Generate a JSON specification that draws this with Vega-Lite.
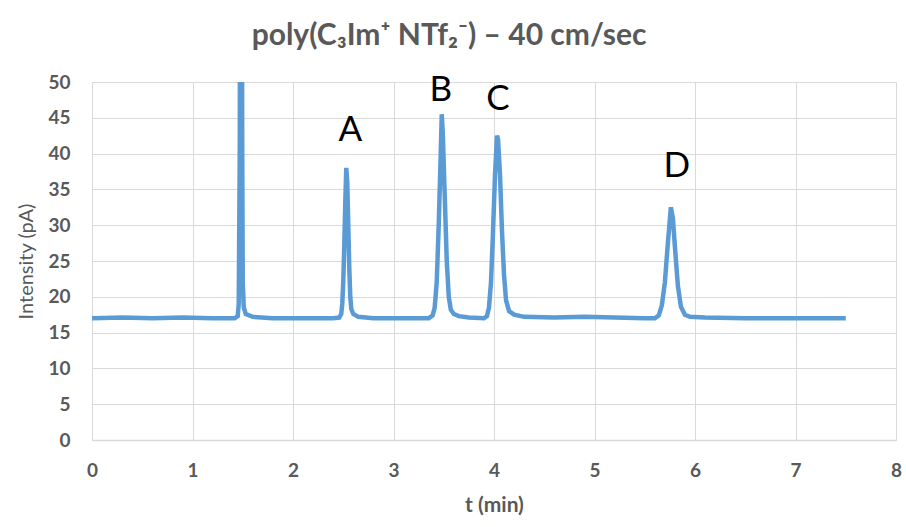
{
  "$schema": "https://vega.github.io/schema/vega-lite/v6.json",
  "width": 804,
  "height": 358,
  "autosize": {"type": "none"},
  "padding": {"left": 92, "top": 82, "right": 10, "bottom": 87},
  "background": "white",
  "config": {"view": {"stroke": null}},
  "title": {
    "text": "poly(C₃Im⁺ NTf₂⁻) – 40 cm/sec",
    "font": "Lato",
    "fontSize": 30,
    "fontWeight": "bold",
    "color": "#595959",
    "anchor": "middle",
    "dx": -45,
    "offset": 22
  },
  "datasets": {
    "trace": [
      {"t": 0, "I": 17}, {"t": 0.3, "I": 17.1}, {"t": 0.6, "I": 17}, {"t": 0.9, "I": 17.1},
      {"t": 1.2, "I": 17}, {"t": 1.42, "I": 17}, {"t": 1.45, "I": 17.3}, {"t": 1.46, "I": 19},
      {"t": 1.47, "I": 40}, {"t": 1.475, "I": 75}, {"t": 1.49, "I": 75}, {"t": 1.495, "I": 40},
      {"t": 1.5, "I": 22}, {"t": 1.51, "I": 18.5}, {"t": 1.53, "I": 17.6}, {"t": 1.6, "I": 17.2},
      {"t": 1.8, "I": 17}, {"t": 2.1, "I": 17}, {"t": 2.4, "I": 17}, {"t": 2.46, "I": 17.1},
      {"t": 2.48, "I": 17.6}, {"t": 2.49, "I": 19}, {"t": 2.5, "I": 22}, {"t": 2.51, "I": 27},
      {"t": 2.52, "I": 33}, {"t": 2.53, "I": 38}, {"t": 2.54, "I": 36}, {"t": 2.55, "I": 30},
      {"t": 2.56, "I": 24}, {"t": 2.57, "I": 20}, {"t": 2.58, "I": 18.3}, {"t": 2.6, "I": 17.6},
      {"t": 2.65, "I": 17.2}, {"t": 2.8, "I": 17}, {"t": 3.1, "I": 17}, {"t": 3.35, "I": 17},
      {"t": 3.39, "I": 17.4}, {"t": 3.41, "I": 18.5}, {"t": 3.43, "I": 22}, {"t": 3.45, "I": 30},
      {"t": 3.47, "I": 40}, {"t": 3.48, "I": 45.5}, {"t": 3.49, "I": 43}, {"t": 3.51, "I": 34},
      {"t": 3.53, "I": 25}, {"t": 3.55, "I": 20}, {"t": 3.57, "I": 18.2}, {"t": 3.6, "I": 17.6},
      {"t": 3.65, "I": 17.3}, {"t": 3.75, "I": 17.1}, {"t": 3.9, "I": 17}, {"t": 3.93, "I": 17.3},
      {"t": 3.95, "I": 18.5}, {"t": 3.97, "I": 22}, {"t": 3.99, "I": 29}, {"t": 4.01, "I": 37},
      {"t": 4.03, "I": 42.5}, {"t": 4.04, "I": 42}, {"t": 4.06, "I": 37}, {"t": 4.08, "I": 29},
      {"t": 4.1, "I": 23}, {"t": 4.12, "I": 19.5}, {"t": 4.15, "I": 18}, {"t": 4.2, "I": 17.5},
      {"t": 4.3, "I": 17.2}, {"t": 4.6, "I": 17.1}, {"t": 4.9, "I": 17.2}, {"t": 5.2, "I": 17.1},
      {"t": 5.5, "I": 17}, {"t": 5.6, "I": 17}, {"t": 5.64, "I": 17.4}, {"t": 5.67, "I": 18.8},
      {"t": 5.7, "I": 22}, {"t": 5.73, "I": 27.5}, {"t": 5.76, "I": 32.5}, {"t": 5.78, "I": 31},
      {"t": 5.8, "I": 27}, {"t": 5.83, "I": 21.5}, {"t": 5.86, "I": 18.6}, {"t": 5.9, "I": 17.5},
      {"t": 5.95, "I": 17.2}, {"t": 6.1, "I": 17.1}, {"t": 6.5, "I": 17}, {"t": 7.0, "I": 17},
      {"t": 7.5, "I": 17}
    ],
    "labels": [
      {"t": 2.57, "I": 43.3, "label": "A"},
      {"t": 3.47, "I": 48.9, "label": "B"},
      {"t": 4.04, "I": 47.6, "label": "C"},
      {"t": 5.82, "I": 38.2, "label": "D"}
    ]
  },
  "encoding": {
    "x": {
      "field": "t", "type": "quantitative",
      "scale": {"domain": [0, 8], "nice": false},
      "axis": {
        "title": "t (min)",
        "values": [0, 1, 2, 3, 4, 5, 6, 7, 8],
        "format": "d",
        "labelFlush": false, "labelOverlap": false,
        "grid": true, "gridColor": "#d9d9d9", "gridWidth": 1,
        "domainColor": "#d9d9d9", "domainWidth": 1.5,
        "ticks": false, "labelPadding": 21,
        "labelFont": "Lato", "labelFontSize": 19, "labelFontWeight": "bold", "labelColor": "#595959",
        "titleFont": "Lato", "titleFontSize": 21, "titleFontWeight": "bold", "titleColor": "#595959",
        "titlePadding": 14
      }
    },
    "y": {
      "field": "I", "type": "quantitative",
      "scale": {"domain": [0, 50], "nice": false},
      "axis": {
        "title": "Intensity (pA)",
        "values": [0, 5, 10, 15, 20, 25, 30, 35, 40, 45, 50],
        "format": "d",
        "labelFlush": false, "labelOverlap": false,
        "grid": true, "gridColor": "#d9d9d9", "gridWidth": 1,
        "domainColor": "#d9d9d9", "domainWidth": 1,
        "ticks": false, "labelPadding": 22,
        "labelFont": "Lato", "labelFontSize": 19, "labelFontWeight": "bold", "labelColor": "#595959",
        "titleFont": "Lato", "titleFontSize": 20, "titleFontWeight": "normal", "titleColor": "#595959",
        "titlePadding": 11
      }
    }
  },
  "layer": [
    {
      "data": {"name": "trace"},
      "mark": {"type": "line", "color": "#5B9BD5", "strokeWidth": 4.5, "clip": true, "interpolate": "linear"}
    },
    {
      "data": {"name": "labels"},
      "mark": {"type": "text", "font": "Lato", "fontSize": 35, "color": "black", "baseline": "middle", "align": "center"},
      "encoding": {
        "text": {"field": "label"}
      }
    }
  ]
}
